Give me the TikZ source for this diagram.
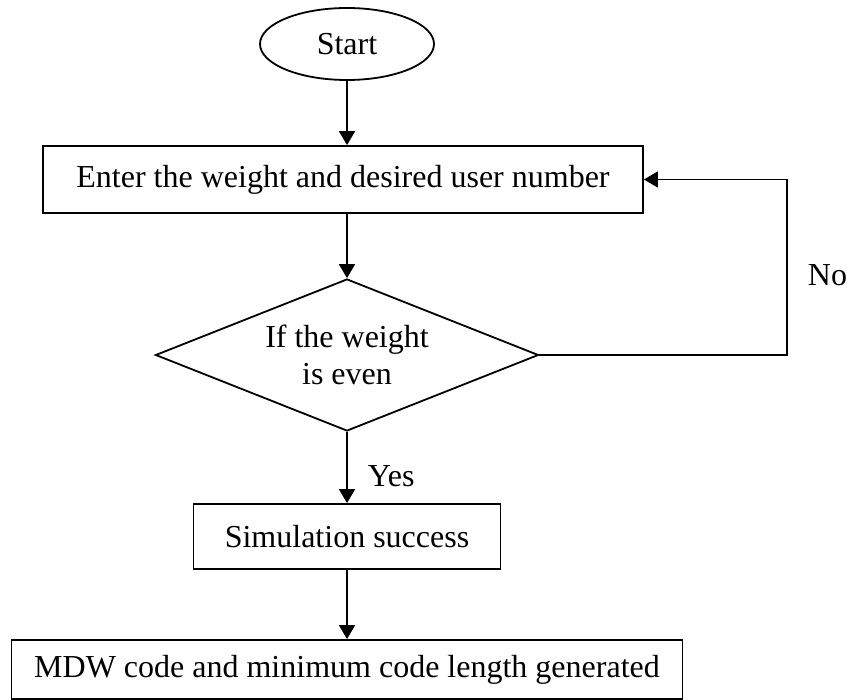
\documentclass[tikz,border=0pt]{standalone}
\usepackage{fontspec}
\setmainfont{Liberation Serif}
\usetikzlibrary{shapes.geometric,arrows.meta,positioning}

\begin{document}
\begin{tikzpicture}[x=1pt,y=1pt,line width=1.8pt,on grid,auto,
    >={Triangle[length=14pt,width=16pt]},
    every node/.style={font=\fontsize{32}{37}\selectfont},
    terminal/.style={ellipse,draw,minimum width=174pt,minimum height=72pt,inner sep=0pt},
    process/.style={rectangle,draw,inner sep=0pt},
    decision/.style={diamond,draw,align=center,shape aspect=2.52,minimum width=383pt,minimum height=152pt,inner sep=0pt},
    answer/.style={inner sep=0pt}]
  \useasboundingbox (0,0) rectangle (850,-700);
  \node[terminal] (start) at (347,-44) {Start};
  \node[process,minimum width=600pt,minimum height=67pt] (enter) [below=135.5pt of start,xshift=-4pt] {Enter the weight and desired user number};
  \node[decision] (cond) [below=311pt of start] {If the weight\\is even};
  \node[process,minimum width=307pt,minimum height=65pt] (sim) [below=181.5pt of cond] {Simulation success};
  \node[process,minimum width=671pt,minimum height=59pt] (mdw) [below=133pt of sim] {MDW code and minimum code length generated};
  \coordinate[right=440pt of cond] (turn);
  \path[->]
    (start) edge (start |- enter.north)
    (cond.north |- enter.south) edge (cond)
    (cond) edge node[answer,pos=0.62,right=20pt] {Yes} (sim)
    (sim) edge (mdw);
  \draw[->] (cond.east) -- (turn) |- node[answer,pos=0.227,right=20pt] {No} (enter.east);
\end{tikzpicture}
\end{document}
